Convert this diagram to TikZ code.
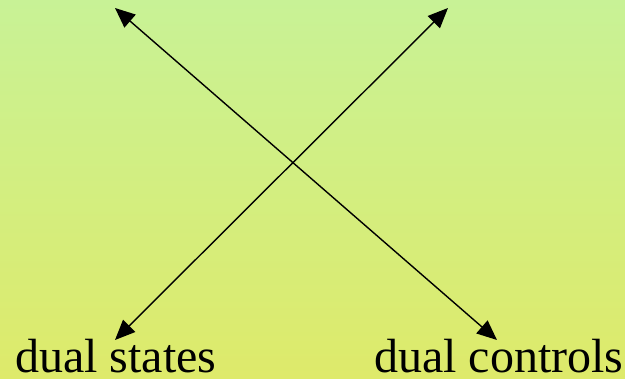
\documentclass[tikz,border=0pt]{standalone}
\usepackage{fontspec}
\setmainfont{Liberation Serif}
\usetikzlibrary{arrows.meta}
\definecolor{bgtop}{RGB}{200, 242, 150}
\definecolor{bgbottom}{RGB}{222, 234, 106}

\begin{document}
\begin{tikzpicture}[x=1pt, y=-1pt,
    dualarrow/.style={line width=1.4pt, {Triangle[length=20pt,width=17pt]}-{Triangle[length=20pt,width=17pt]}},
    label/.style={anchor=base west, inner sep=0pt, font=\fontsize{48}{56}\selectfont}]
    % background
    \shade[top color=bgtop, bottom color=bgbottom] (0,0) rectangle (625,379);
    \useasboundingbox (0,0) rectangle (625,379);

    % arrow tips
    \coordinate (topleft) at (115,8);
    \coordinate (topright) at (448,8);
    \coordinate (lowleft) at (115,340);
    \coordinate (lowright) at (497,340);

    % labels
    \node[label] (states) at (15,373) {dual states};
    \node[label] (controls) at (374,373) {dual controls};

    % crossing arrows
    \draw[dualarrow] (topleft) -- (lowright);
    \draw[dualarrow] (topright) -- (lowleft);
\end{tikzpicture}
\end{document}
